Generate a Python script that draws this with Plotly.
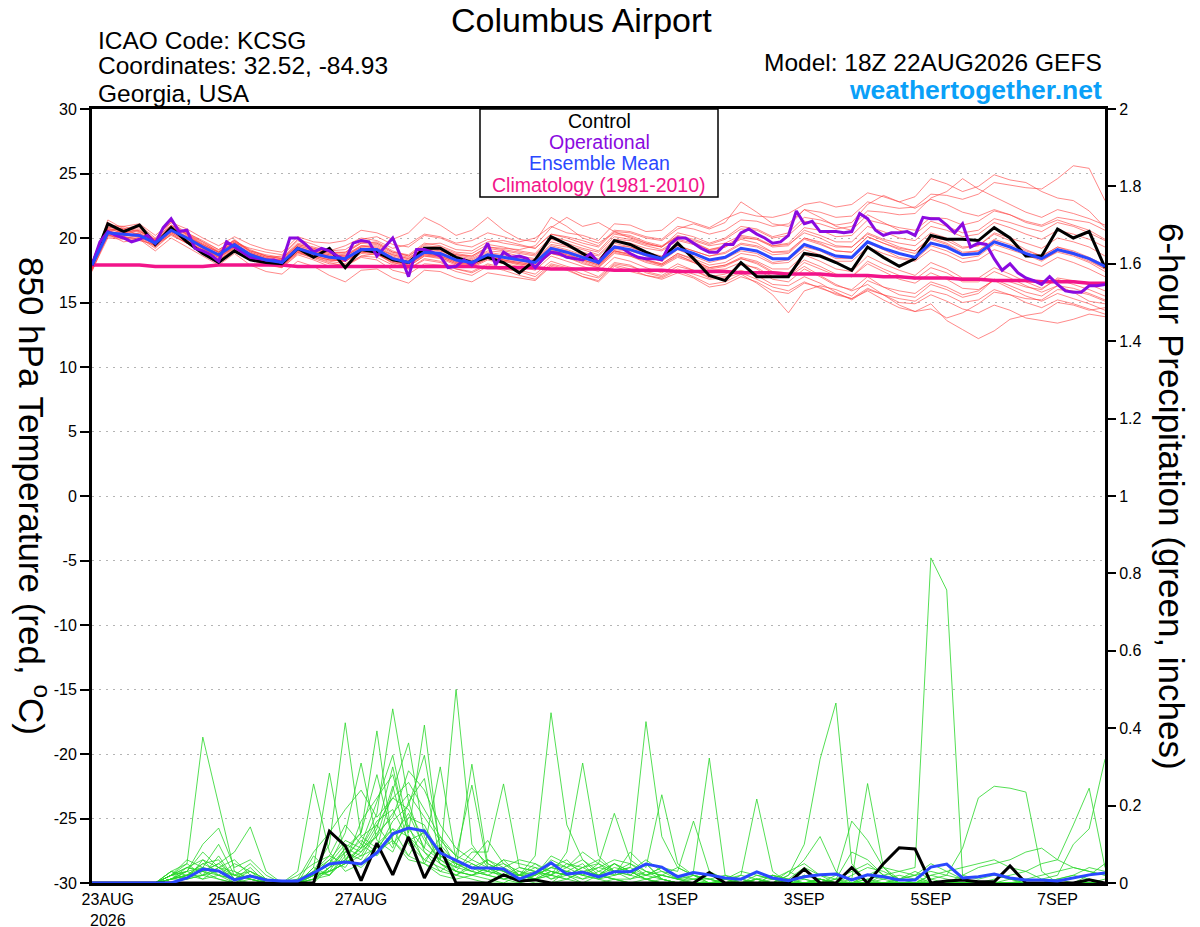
import pandas as pd
import plotly.graph_objects as go

# 6-hourly GEFS steps, 3-hourly for the operational run
times = pd.date_range("2026-08-22 18:00", periods=65, freq="6h")
times_op = pd.date_range("2026-08-22 18:00", periods=129, freq="3h")

tick_dates = ["2026-08-23", "2026-08-25", "2026-08-27", "2026-08-29",
              "2026-09-01", "2026-09-03", "2026-09-05", "2026-09-07"]
tick_labels = ["23AUG<br>2026", "25AUG", "27AUG", "29AUG", "1SEP", "3SEP", "5SEP", "7SEP"]
temp_ticks = [30, 25, 20, 15, 10, 5, 0, -5, -10, -15, -20, -25, -30]
temp_tick_text = ["30", "25", "20", "15", "10", "5", "0", "-5", "-10", "-15", "-20", "-25", "-30"]

# 850 hPa temperature (C)
control_t = [17.9, 21.1, 20.5, 21.0, 19.5, 20.8, 19.7, 18.8, 18.1, 19.0, 18.3, 18.1, 18.0,
             19.2, 18.5, 19.2, 17.7, 19.1, 18.9, 18.3, 18.1, 19.2, 19.2, 18.5, 18.1, 18.5,
             18.1, 17.3, 18.3, 20.1, 19.5, 18.8, 18.1, 19.8, 19.5, 18.9, 18.4, 19.6, 18.4,
             17.1, 16.7, 18.1, 17.0, 17.0, 17.0, 18.8, 18.6, 18.1, 17.5, 19.3, 18.5, 17.8,
             18.4, 20.2, 19.9, 19.9, 19.8, 20.8, 20.0, 18.6, 18.6, 20.7, 20.0, 20.5, 17.7]
mean_t = [17.9, 20.4, 20.3, 20.2, 19.6, 20.6, 20.0, 19.3, 18.7, 19.5, 18.7, 18.3, 18.1,
          19.2, 18.8, 18.5, 18.4, 19.1, 19.1, 18.4, 18.1, 18.9, 18.8, 18.3, 18.1, 18.7,
          18.5, 18.3, 18.1, 19.2, 18.9, 18.5, 18.1, 19.3, 19.1, 18.7, 18.4, 19.2, 18.8,
          18.3, 18.5, 19.2, 19.0, 18.4, 18.4, 19.5, 19.1, 18.6, 18.5, 19.7, 19.2, 18.8,
          18.5, 19.6, 19.3, 18.7, 18.8, 19.7, 19.3, 18.8, 18.4, 19.1, 18.8, 18.4, 17.8]
clim_t = [17.9, 17.9, 17.9, 17.9, 17.8, 17.8, 17.8, 17.8, 17.9, 17.9, 17.9, 17.9, 17.9,
          17.8, 17.8, 17.8, 17.8, 17.8, 17.8, 17.8, 17.8, 17.8, 17.8, 17.8, 17.8, 17.7,
          17.7, 17.7, 17.7, 17.6, 17.6, 17.6, 17.6, 17.5, 17.5, 17.5, 17.5, 17.4, 17.4,
          17.4, 17.4, 17.3, 17.3, 17.3, 17.2, 17.2, 17.2, 17.1, 17.1, 17.1, 17.0, 17.0,
          16.9, 16.9, 16.9, 16.8, 16.8, 16.7, 16.7, 16.7, 16.6, 16.6, 16.6, 16.5, 16.5]
oper_t = [17.9, 19.7, 20.5, 20.2, 20.0, 19.7, 19.9, 20.2,
          19.6, 20.8, 21.5, 20.5, 20.6, 19.2, 19.0, 18.7,
          18.2, 19.7, 19.3, 18.9, 18.5, 18.4, 18.3, 18.3,
          18.1, 20.0, 20.0, 19.5, 18.9, 19.2, 19.0, 18.6,
          18.3, 19.6, 19.8, 19.7, 18.6, 19.3, 20.0, 18.6,
          17.0, 19.1, 19.1, 18.9, 18.6, 17.7, 17.8, 18.3,
          17.9, 18.5, 19.6, 17.9, 18.9, 18.5, 18.6, 18.4,
          17.7, 18.4, 18.9, 18.8, 18.5, 18.4, 18.3, 18.8,
          18.1, 18.8, 19.3, 19.2, 18.8, 18.5, 18.4, 18.4,
          18.3, 19.5, 20.0, 20.0, 19.6, 19.2, 18.9, 18.9,
          19.5, 19.5, 20.4, 20.7, 20.3, 20.0, 19.6, 19.7,
          20.2, 22.1, 21.1, 21.3, 20.5, 20.5, 20.5, 20.4,
          20.5, 21.9, 21.5, 20.6, 20.2, 20.4, 20.4, 20.5,
          20.2, 21.6, 21.5, 21.5, 21.0, 20.4, 21.1, 19.3,
          19.6, 19.5, 18.4, 17.5, 18.0, 17.3, 16.9, 16.7,
          16.4, 17.0, 16.4, 15.9, 15.8, 15.8, 16.3, 16.3,
          16.4]

temp_m01 = [17.6, 20.8, 20.9, 20.5, 19.9, 21.0, 20.3, 19.6, 19.0, 19.8, 19.1, 18.6, 18.4,
            19.5, 19.2, 18.9, 18.8, 19.6, 19.7, 19.0, 18.6, 19.5, 19.6, 19.1, 19.0, 19.7,
            19.8, 19.5, 19.2, 20.3, 20.1, 19.8, 19.4, 20.6, 20.5, 20.1, 19.9, 20.9, 20.7,
            20.3, 20.6, 21.4, 21.3, 20.9, 21.1, 22.2, 22.0, 21.6, 21.7, 22.8, 22.5, 22.3,
            22.4, 23.4, 23.3, 23.0, 23.4, 24.3, 24.1, 23.9, 23.8, 24.6, 25.6, 25.4, 22.9]
temp_m02 = [18.1, 21.2, 20.6, 20.9, 19.8, 21.2, 20.4, 19.7, 18.9, 19.6, 19.2, 18.9, 18.7,
            19.9, 19.5, 19.0, 19.4, 20.0, 19.8, 19.2, 19.5, 20.3, 20.1, 19.6, 19.8, 20.4,
            20.1, 19.7, 20.0, 20.9, 20.4, 20.2, 19.8, 21.1, 21.0, 20.5, 20.6, 21.6, 21.2,
            20.8, 21.5, 22.0, 21.7, 21.6, 21.9, 22.6, 22.8, 22.4, 22.6, 23.5, 23.2, 22.8,
            23.2, 24.6, 24.2, 23.6, 24.0, 24.9, 24.5, 24.3, 23.6, 23.1, 22.9, 22.1, 20.8]
temp_m03 = [17.8, 20.2, 20.1, 19.9, 19.4, 20.4, 19.8, 19.0, 18.5, 19.2, 18.4, 18.0, 17.8,
            18.9, 18.4, 18.0, 17.9, 18.6, 18.5, 17.9, 17.6, 18.3, 18.1, 17.6, 17.4, 18.0,
            17.7, 17.5, 17.2, 18.2, 17.8, 17.5, 17.0, 18.1, 17.9, 17.3, 17.0, 17.6, 17.2,
            16.8, 16.9, 17.3, 16.8, 16.2, 15.9, 16.6, 16.1, 15.7, 15.3, 15.9, 15.2, 14.6,
            14.3, 14.9, 13.6, 12.9, 12.2, 12.8, 13.7, 14.0, 14.2, 15.0, 14.8, 14.4, 14.6]
temp_m04 = [17.5, 20.0, 19.9, 20.0, 19.2, 20.3, 19.6, 19.0, 18.3, 19.1, 18.3, 17.9, 17.7,
            18.7, 18.3, 17.8, 17.8, 18.5, 18.3, 17.5, 17.2, 18.0, 17.9, 17.4, 17.1, 17.8,
            17.5, 17.1, 16.8, 17.9, 17.6, 17.0, 16.6, 17.8, 17.4, 17.1, 16.8, 17.3, 16.9,
            16.2, 16.4, 17.0, 16.6, 15.9, 15.7, 16.5, 16.2, 15.6, 15.3, 16.1, 15.6, 15.0,
            14.9, 15.6, 15.1, 14.5, 14.2, 14.8, 14.4, 13.8, 13.6, 13.4, 13.7, 14.1, 13.9]
temp_m05 = [18.0, 20.6, 20.1, 20.4, 19.3, 20.8, 19.7, 19.1, 18.6, 19.3, 18.5, 18.0, 17.7,
            18.8, 18.5, 18.1, 17.8, 18.6, 18.8, 18.0, 17.6, 18.4, 18.2, 17.6, 17.3, 17.9,
            17.6, 17.4, 17.0, 18.0, 17.7, 17.2, 16.9, 17.9, 17.6, 17.1, 16.9, 17.5, 17.0,
            16.4, 16.6, 17.2, 16.5, 15.6, 14.2, 15.9, 16.3, 16.0, 15.5, 16.7, 16.2, 15.9,
            15.7, 16.6, 16.2, 15.6, 15.9, 16.8, 16.3, 15.8, 15.5, 16.3, 16.1, 15.7, 15.2]
temp_m06 = [17.7, 21.4, 20.7, 21.0, 20.0, 21.3, 20.2, 19.5, 18.9, 19.9, 18.9, 18.5, 18.6,
            19.8, 19.1, 18.8, 18.9, 19.7, 19.6, 18.9, 18.7, 19.6, 19.4, 18.9, 18.8, 19.5,
            19.3, 19.0, 18.8, 20.1, 19.8, 19.4, 19.0, 20.3, 20.1, 19.6, 19.3, 20.4, 20.1,
            19.6, 20.0, 20.9, 20.7, 20.1, 20.4, 21.6, 21.4, 21.0, 21.2, 22.6, 23.3, 22.8,
            22.3, 23.0, 22.6, 22.0, 21.7, 22.2, 21.8, 21.2, 20.9, 21.4, 21.0, 20.6, 19.9]
temp_m07 = [17.9, 20.1, 20.0, 19.8, 19.5, 20.2, 19.6, 18.9, 18.4, 19.3, 18.5, 18.1, 17.8,
            18.9, 18.5, 18.2, 18.0, 18.8, 18.7, 18.1, 17.8, 18.6, 18.5, 18.0, 17.8, 18.4,
            18.2, 17.9, 17.7, 18.8, 18.5, 18.0, 17.7, 18.9, 18.6, 18.2, 17.9, 18.6, 18.2,
            17.7, 17.9, 18.5, 18.2, 17.6, 17.6, 18.7, 18.2, 17.6, 17.4, 18.6, 18.0, 17.5,
            17.1, 18.1, 17.6, 16.9, 16.9, 17.7, 17.2, 16.6, 16.1, 16.8, 16.4, 16.0, 15.5]
temp_m08 = [18.0, 20.7, 20.6, 20.3, 19.8, 20.9, 20.3, 19.5, 18.9, 19.7, 19.0, 18.6, 18.4,
            19.4, 19.1, 18.8, 18.7, 19.4, 19.5, 18.8, 18.5, 19.2, 19.2, 18.7, 18.5, 19.2,
            19.0, 18.8, 18.6, 19.7, 19.4, 19.1, 18.7, 19.9, 19.8, 19.4, 19.1, 19.9, 19.6,
            19.1, 19.4, 20.1, 19.9, 19.3, 19.4, 20.6, 20.2, 19.7, 19.7, 20.9, 20.5, 20.0,
            19.8, 20.9, 20.6, 20.1, 20.3, 21.2, 20.8, 20.3, 19.9, 20.6, 20.3, 19.9, 19.3]
temp_m09 = [17.6, 20.9, 20.4, 20.7, 19.7, 20.6, 19.9, 19.2, 18.5, 19.4, 18.6, 18.2, 18.0,
            19.0, 18.7, 18.4, 18.2, 19.0, 18.9, 18.2, 17.9, 18.8, 18.6, 18.2, 17.9, 18.6,
            18.3, 18.1, 17.9, 19.0, 18.8, 18.3, 18.0, 19.1, 19.0, 18.6, 18.2, 19.1, 18.6,
            18.1, 18.4, 19.0, 18.8, 18.1, 18.3, 19.3, 19.0, 18.4, 18.4, 19.6, 19.1, 18.5,
            18.3, 19.4, 19.0, 18.4, 18.6, 19.5, 19.1, 18.7, 18.2, 19.0, 18.7, 18.2, 17.6]
temp_m10 = [18.2, 20.5, 20.8, 20.1, 19.9, 20.7, 20.4, 19.8, 19.1, 19.8, 19.0, 18.7, 18.5,
            19.6, 19.3, 19.0, 19.1, 19.9, 20.1, 19.5, 19.3, 20.2, 20.0, 19.5, 19.3, 19.9,
            19.6, 19.4, 19.2, 20.3, 20.0, 19.6, 19.3, 20.5, 20.4, 20.0, 19.8, 20.7, 21.1,
            20.7, 21.2, 22.8, 22.0, 21.1, 20.9, 22.2, 21.6, 20.9, 20.6, 21.8, 21.2, 20.6,
            20.3, 21.3, 20.9, 20.4, 20.6, 21.5, 21.2, 20.8, 20.5, 21.2, 20.9, 20.4, 19.8]
temp_m11 = [17.4, 20.3, 19.7, 19.9, 19.0, 20.0, 19.3, 18.6, 17.9, 18.8, 17.9, 17.4, 17.2,
            18.2, 17.8, 17.1, 16.6, 17.5, 17.6, 16.9, 16.5, 17.5, 17.4, 16.9, 16.6, 17.3,
            17.1, 16.9, 16.7, 17.8, 17.5, 17.0, 16.7, 18.0, 17.8, 17.4, 17.1, 17.8, 17.5,
            17.0, 17.2, 17.9, 17.7, 17.0, 17.0, 18.1, 17.6, 17.1, 17.0, 18.2, 17.6, 17.1,
            16.8, 17.7, 17.3, 16.6, 16.6, 17.4, 16.9, 16.3, 15.8, 16.3, 15.8, 15.1, 14.9]
temp_m12 = [18.1, 21.0, 20.9, 21.1, 20.2, 21.2, 20.7, 20.0, 19.4, 20.1, 19.5, 19.1, 18.9,
            20.1, 19.7, 19.6, 19.8, 20.6, 20.4, 19.9, 20.4, 21.6, 21.0, 20.2, 20.6, 21.6,
            20.6, 19.9, 19.7, 21.6, 20.9, 20.0, 19.6, 20.4, 20.2, 19.7, 19.4, 20.1, 19.7,
            19.1, 19.3, 19.9, 19.6, 18.9, 18.9, 20.0, 19.6, 19.0, 18.9, 20.1, 19.6, 19.1,
            18.8, 19.9, 19.5, 18.8, 19.0, 19.9, 19.5, 19.0, 18.6, 19.3, 19.0, 18.5, 17.9]
temp_m13 = [17.8, 20.4, 20.5, 20.0, 19.6, 20.5, 19.9, 19.3, 18.8, 19.4, 18.8, 18.4, 18.2,
            19.1, 18.9, 18.6, 18.5, 19.2, 19.0, 18.5, 18.2, 18.9, 18.9, 18.4, 18.2, 18.8,
            18.6, 18.4, 18.2, 19.3, 19.0, 18.6, 18.2, 19.4, 19.3, 18.8, 18.5, 19.4, 19.0,
            18.6, 18.9, 19.6, 19.4, 18.9, 19.0, 20.0, 19.7, 19.3, 19.3, 20.4, 19.9, 19.6,
            19.4, 20.4, 20.0, 19.3, 19.4, 20.3, 19.8, 19.1, 18.6, 19.3, 18.9, 18.3, 17.6]
temp_m14 = [17.7, 20.6, 20.2, 20.3, 19.5, 20.7, 20.1, 19.4, 18.6, 19.5, 18.7, 18.2, 18.0,
            19.2, 18.8, 18.4, 18.3, 19.1, 19.2, 18.5, 18.1, 18.8, 18.7, 18.2, 18.0, 18.6,
            18.4, 18.2, 18.0, 19.1, 18.7, 18.3, 17.9, 19.0, 18.7, 18.3, 17.9, 18.7, 18.1,
            17.5, 17.6, 18.1, 17.6, 16.8, 16.6, 17.6, 17.0, 16.3, 16.0, 17.0, 16.2, 15.6,
            15.4, 16.4, 16.0, 15.4, 15.7, 16.8, 16.6, 16.2, 16.0, 16.9, 16.7, 16.4, 15.9]
temp_m15 = [18.0, 20.3, 20.2, 20.4, 19.7, 20.5, 19.8, 19.2, 18.6, 19.6, 18.8, 18.4, 18.2,
            19.3, 18.9, 18.6, 18.6, 19.3, 19.4, 18.7, 18.4, 19.2, 19.1, 18.6, 18.4, 19.0,
            18.9, 18.6, 18.4, 19.5, 19.3, 18.9, 18.6, 19.8, 19.6, 19.2, 19.0, 19.8, 19.5,
            19.0, 19.3, 20.0, 19.9, 19.4, 19.6, 20.8, 20.6, 20.1, 20.2, 21.4, 21.1, 20.8,
            20.6, 21.6, 21.5, 21.0, 21.3, 22.1, 21.8, 21.3, 21.0, 21.6, 21.4, 21.2, 20.6]
temp_m16 = [17.9, 20.8, 20.3, 20.6, 19.6, 20.9, 20.0, 19.4, 18.7, 19.6, 18.6, 18.3, 18.1,
            19.1, 18.7, 18.5, 18.4, 19.0, 19.0, 18.3, 18.0, 18.7, 18.6, 18.1, 17.9, 18.5,
            18.3, 18.0, 17.8, 18.8, 18.5, 18.1, 17.7, 18.8, 18.6, 18.1, 17.8, 18.5, 18.1,
            17.6, 17.8, 18.4, 18.1, 17.4, 17.3, 18.3, 17.8, 17.2, 17.0, 18.0, 17.4, 16.8,
            16.5, 17.3, 16.8, 16.1, 16.0, 16.7, 16.1, 15.5, 15.1, 15.7, 15.3, 14.9, 14.4]
temp_m17 = [17.6, 20.5, 20.0, 20.2, 19.4, 20.4, 19.7, 19.1, 18.5, 19.3, 18.5, 18.1, 17.9,
            19.0, 18.6, 18.3, 18.2, 19.0, 18.9, 18.3, 18.0, 18.8, 18.6, 18.1, 17.9, 18.5,
            18.3, 18.1, 17.9, 19.0, 18.7, 18.3, 17.9, 19.0, 18.8, 18.3, 18.0, 18.8, 18.3,
            17.7, 17.9, 18.4, 18.0, 17.3, 17.0, 17.8, 17.1, 16.4, 15.9, 16.4, 15.6, 14.8,
            14.3, 14.5, 13.8, 14.2, 14.9, 15.8, 15.6, 15.3, 15.2, 16.0, 15.9, 15.6, 15.1]
temp_m18 = [18.1, 20.6, 20.7, 20.5, 19.8, 20.8, 20.2, 19.4, 18.9, 19.7, 18.9, 18.5, 18.3,
            19.4, 19.0, 18.7, 18.6, 19.3, 19.3, 18.6, 18.3, 19.0, 19.0, 18.5, 18.3, 18.9,
            18.7, 18.5, 18.3, 19.4, 19.1, 18.7, 18.4, 19.6, 19.3, 18.9, 18.6, 19.4, 19.0,
            18.6, 18.8, 19.5, 19.3, 18.7, 18.8, 19.9, 19.5, 19.0, 18.9, 20.1, 19.6, 19.2,
            19.0, 20.1, 19.8, 19.2, 19.4, 20.4, 20.0, 19.6, 19.2, 20.0, 19.7, 19.3, 18.6]
temp_m19 = [17.8, 20.7, 20.4, 20.6, 19.7, 20.7, 20.1, 19.5, 18.9, 19.6, 18.8, 18.4, 18.3,
            19.3, 18.9, 18.7, 18.6, 19.4, 19.2, 18.7, 18.4, 19.2, 19.0, 18.7, 18.6, 19.3,
            19.2, 19.1, 19.4, 20.8, 21.6, 20.9, 21.2, 20.5, 20.0, 19.6, 19.3, 20.1, 19.8,
            19.4, 19.6, 20.2, 20.0, 19.4, 19.5, 20.4, 20.0, 19.4, 19.3, 20.3, 19.8, 19.3,
            19.0, 20.0, 19.6, 18.9, 19.0, 19.8, 19.3, 18.8, 18.3, 18.9, 18.6, 18.1, 17.4]
temp_m20 = [17.5, 20.2, 20.0, 20.1, 19.3, 20.3, 19.6, 18.9, 18.3, 19.2, 18.4, 18.0, 17.9,
            18.9, 18.6, 18.3, 18.2, 18.9, 18.8, 18.2, 17.9, 18.7, 18.5, 18.0, 17.8, 18.4,
            18.2, 18.0, 17.8, 18.9, 18.6, 18.2, 17.8, 19.0, 18.7, 18.3, 18.0, 18.8, 18.4,
            17.9, 18.1, 18.8, 18.6, 18.0, 18.1, 19.1, 18.7, 18.2, 18.2, 19.3, 18.8, 18.4,
            18.2, 19.1, 18.7, 18.1, 18.3, 19.1, 18.7, 18.2, 17.8, 18.5, 18.1, 17.6, 17.0]
temp_m21 = [18.0, 20.4, 20.3, 20.2, 19.5, 20.5, 19.9, 19.2, 18.6, 19.4, 18.6, 18.2, 18.0,
            19.0, 18.6, 18.3, 18.2, 18.9, 18.8, 18.1, 17.8, 18.6, 18.4, 17.9, 17.7, 18.3,
            18.0, 17.8, 17.5, 18.6, 18.2, 17.8, 17.4, 18.5, 18.2, 17.7, 17.3, 18.0, 17.5,
            16.9, 17.0, 17.5, 17.1, 16.4, 16.3, 17.0, 16.5, 15.8, 15.2, 16.0, 15.6, 15.3,
            15.1, 15.9, 15.6, 15.0, 15.2, 16.0, 15.6, 15.0, 14.6, 15.2, 14.9, 14.5, 14.1]
temp_m22 = [17.9, 21.1, 20.6, 20.8, 19.9, 21.0, 20.3, 19.7, 19.1, 19.8, 19.0, 18.6, 18.4,
            19.5, 19.2, 18.9, 18.9, 19.6, 19.6, 18.9, 18.6, 19.4, 19.3, 18.8, 18.6, 19.3,
            19.1, 18.9, 18.7, 19.9, 19.6, 19.2, 18.9, 20.1, 19.9, 19.5, 19.3, 20.2, 19.9,
            19.5, 19.9, 20.7, 20.6, 20.0, 20.2, 21.3, 21.1, 20.7, 20.9, 22.1, 22.0, 21.8,
            21.9, 23.1, 23.6, 24.6, 23.8, 23.2, 22.6, 22.0, 21.6, 22.2, 21.9, 21.5, 21.0]

# 6-hour precipitation (inches)
control_p = [0, 0, 0, 0, 0, 0, 0, 0, 0, 0, 0, 0, 0,
             0, 0, 0.134, 0.096, 0.006, 0.103, 0.021, 0.119, 0.013, 0.090, 0, 0, 0,
             0.021, 0.005, 0.008, 0, 0, 0, 0, 0, 0, 0, 0, 0, 0,
             0.027, 0, 0, 0, 0, 0, 0.036, 0, 0, 0.040, 0, 0.050, 0.091,
             0.088, 0, 0.005, 0.008, 0.003, 0.003, 0.044, 0, 0, 0, 0, 0.008, 0]
mean_p = [0, 0, 0, 0, 0, 0, 0.013, 0.036, 0.031, 0.008, 0.018, 0.008, 0.005,
          0.005, 0.026, 0.049, 0.054, 0.049, 0.078, 0.127, 0.142, 0.134, 0.078, 0.059, 0.039, 0.039,
          0.036, 0.010, 0.026, 0.052, 0.023, 0.028, 0.016, 0.029, 0.029, 0.049, 0.041, 0.016, 0.027,
          0.021, 0.013, 0.010, 0.029, 0.013, 0.006, 0.016, 0.021, 0.023, 0.008, 0.021, 0.016, 0.008,
          0.008, 0.041, 0.049, 0.013, 0.016, 0.023, 0.013, 0.008, 0.008, 0.005, 0.013, 0.021, 0.026]

precip_m01 = [0, 0, 0, 0, 0, 0.02, 0.05, 0.377, 0.20, 0.03, 0.01, 0, 0,
              0, 0.02, 0.06, 0.11, 0.09, 0.18, 0.45, 0.21, 0.08, 0.03, 0.02, 0.01, 0,
              0, 0, 0.01, 0.03, 0.02, 0, 0, 0.01, 0, 0, 0, 0, 0,
              0, 0, 0, 0, 0, 0, 0.02, 0.01, 0, 0, 0, 0, 0,
              0, 0, 0, 0, 0, 0, 0, 0, 0, 0, 0, 0, 0]
precip_m02 = [0, 0, 0, 0, 0, 0.01, 0.03, 0.08, 0.04, 0.01, 0.03, 0, 0,
              0, 0.03, 0.10, 0.414, 0.12, 0.15, 0.09, 0.21, 0.27, 0.06, 0.50, 0.10, 0.04,
              0.02, 0.01, 0, 0, 0.03, 0.05, 0.01, 0, 0, 0, 0, 0, 0,
              0, 0, 0, 0, 0, 0, 0, 0, 0, 0, 0, 0, 0.01,
              0.02, 0, 0, 0, 0, 0, 0, 0, 0, 0, 0, 0, 0]
precip_m03 = [0, 0, 0, 0, 0, 0.02, 0.06, 0.04, 0.10, 0.02, 0.05, 0.01, 0,
              0, 0, 0.04, 0.08, 0.13, 0.393, 0.10, 0.15, 0.05, 0.12, 0.04, 0.06, 0.11,
              0.05, 0.02, 0.07, 0.44, 0.15, 0.06, 0.02, 0.05, 0.03, 0.01, 0, 0, 0,
              0, 0, 0, 0, 0.01, 0.03, 0.01, 0, 0, 0, 0, 0, 0,
              0, 0, 0, 0, 0, 0, 0, 0, 0, 0, 0, 0, 0]
precip_m04 = [0, 0, 0, 0, 0, 0.03, 0.02, 0.05, 0.06, 0.01, 0.02, 0, 0,
              0, 0.07, 0.03, 0.05, 0.16, 0.22, 0.28, 0.13, 0.408, 0.08, 0.03, 0.02, 0.04,
              0.01, 0, 0.02, 0.06, 0.04, 0.08, 0.05, 0.03, 0.04, 0.417, 0.12, 0.04, 0.02,
              0, 0.01, 0, 0, 0, 0.03, 0.05, 0.02, 0, 0, 0, 0, 0,
              0, 0, 0, 0, 0, 0, 0, 0, 0, 0.01, 0, 0, 0]
precip_m05 = [0, 0, 0, 0, 0, 0.01, 0.04, 0.03, 0.02, 0, 0.01, 0, 0,
              0, 0.04, 0.284, 0.06, 0.12, 0.09, 0.24, 0.362, 0.12, 0.05, 0.02, 0.04, 0.03,
              0.06, 0.02, 0.01, 0.03, 0.02, 0.01, 0.03, 0.05, 0.02, 0.01, 0, 0, 0,
              0, 0, 0, 0, 0, 0.02, 0.10, 0.32, 0.465, 0.05, 0, 0, 0,
              0, 0, 0, 0, 0, 0, 0, 0, 0, 0, 0, 0, 0]
precip_m06 = [0, 0, 0, 0, 0, 0, 0.02, 0.03, 0.01, 0, 0, 0, 0,
              0.03, 0.256, 0.08, 0.03, 0.05, 0.10, 0.14, 0.07, 0.05, 0.02, 0.01, 0.02, 0.01,
              0, 0.02, 0.01, 0, 0.01, 0, 0.02, 0.01, 0, 0, 0.01, 0, 0,
              0, 0, 0, 0, 0, 0, 0, 0, 0.01, 0.03, 0.05, 0.02, 0.03,
              0.04, 0.84, 0.757, 0.02, 0.01, 0.02, 0.01, 0, 0, 0, 0, 0, 0.01]
precip_m07 = [0, 0, 0, 0, 0, 0.02, 0.01, 0.06, 0.04, 0.02, 0.03, 0.01, 0,
              0, 0.02, 0.05, 0.13, 0.31, 0.11, 0.08, 0.17, 0.15, 0.07, 0.04, 0.307, 0.05,
              0.03, 0.01, 0.02, 0.04, 0.06, 0.02, 0.01, 0.03, 0.05, 0.02, 0.04, 0.01, 0.03,
              0.323, 0.02, 0, 0.01, 0, 0, 0.01, 0, 0, 0, 0.01, 0, 0,
              0, 0, 0, 0, 0, 0, 0, 0, 0, 0, 0, 0, 0]
precip_m08 = [0, 0, 0, 0, 0, 0.01, 0.02, 0.05, 0.03, 0, 0.02, 0.01, 0,
              0, 0.01, 0.03, 0.09, 0.07, 0.14, 0.30, 0.12, 0.06, 0.10, 0.05, 0.03, 0.02,
              0.04, 0.06, 0.05, 0.02, 0.08, 0.31, 0.07, 0.03, 0.02, 0.05, 0.01, 0, 0.01,
              0, 0, 0.02, 0.01, 0, 0, 0, 0.01, 0, 0.02, 0.04, 0.03, 0.01,
              0, 0.01, 0.02, 0.09, 0.22, 0.25, 0.245, 0.235, 0.03, 0, 0, 0, 0]
precip_m09 = [0, 0, 0, 0, 0, 0.03, 0.05, 0.02, 0.07, 0.01, 0.04, 0, 0,
              0.02, 0.05, 0.07, 0.15, 0.10, 0.21, 0.33, 0.14, 0.09, 0.06, 0.03, 0.08, 0.08,
              0.256, 0.04, 0.03, 0.02, 0.05, 0.03, 0.02, 0.01, 0.01, 0.03, 0.02, 0.01, 0,
              0, 0, 0, 0.01, 0, 0.02, 0.06, 0.12, 0.03, 0, 0, 0, 0,
              0, 0, 0, 0, 0, 0, 0, 0, 0, 0, 0, 0, 0]
precip_m10 = [0, 0, 0, 0, 0, 0.01, 0.02, 0.04, 0.02, 0.05, 0.03, 0.01, 0,
              0, 0.01, 0.04, 0.06, 0.09, 0.12, 0.18, 0.23, 0.17, 0.11, 0.07, 0.253, 0.04,
              0.02, 0.03, 0.01, 0.05, 0.04, 0.06, 0.03, 0.02, 0.08, 0.04, 0.228, 0.05, 0.02,
              0.01, 0, 0, 0, 0.02, 0.01, 0, 0, 0.01, 0.08, 0.06, 0.02, 0,
              0, 0.02, 0.03, 0.04, 0.05, 0.06, 0.04, 0.03, 0.05, 0.06, 0.15, 0.245, 0.04]
precip_m11 = [0, 0, 0, 0, 0, 0.02, 0.04, 0.03, 0.05, 0.08, 0.145, 0.03, 0,
              0.01, 0.03, 0.02, 0.07, 0.11, 0.08, 0.16, 0.20, 0.33, 0.09, 0.05, 0.03, 0.06,
              0.03, 0.02, 0.04, 0.01, 0.03, 0.02, 0.04, 0.03, 0.02, 0.05, 0.01, 0, 0,
              0, 0, 0.01, 0, 0, 0, 0.02, 0.01, 0, 0, 0, 0.01, 0.02,
              0.01, 0, 0, 0, 0, 0.01, 0.02, 0.03, 0.01, 0.02, 0.10, 0.14, 0.32]
precip_m12 = [0, 0, 0, 0, 0, 0.01, 0.03, 0.10, 0.142, 0.04, 0.06, 0.02, 0,
              0, 0.02, 0.03, 0.05, 0.08, 0.12, 0.25, 0.10, 0.06, 0.04, 0.02, 0.05, 0.03,
              0.02, 0.01, 0.01, 0.02, 0.01, 0.03, 0.02, 0.01, 0, 0.01, 0, 0, 0,
              0, 0, 0, 0.02, 0.01, 0, 0, 0, 0, 0.01, 0.257, 0.04, 0,
              0, 0, 0, 0, 0, 0, 0, 0, 0, 0, 0, 0, 0]
precip_m13 = [0, 0, 0, 0, 0, 0.01, 0.02, 0.02, 0.03, 0.01, 0.02, 0, 0,
              0, 0.03, 0.06, 0.04, 0.10, 0.07, 0.12, 0.18, 0.09, 0.30, 0.06, 0.04, 0.02,
              0.01, 0.02, 0.03, 0.01, 0.02, 0.04, 0.02, 0.05, 0.03, 0.02, 0.04, 0.03, 0.16,
              0.03, 0.01, 0.02, 0.217, 0.03, 0, 0, 0, 0, 0, 0.02, 0.01, 0,
              0, 0, 0, 0, 0, 0, 0, 0, 0, 0, 0, 0, 0]
precip_m14 = [0, 0, 0, 0, 0, 0.02, 0.03, 0.01, 0.04, 0.03, 0.01, 0, 0,
              0, 0.01, 0.04, 0.09, 0.13, 0.28, 0.11, 0.07, 0.14, 0.05, 0.03, 0.02, 0.04,
              0.03, 0.01, 0.02, 0.04, 0.03, 0.02, 0.05, 0.18, 0.06, 0.03, 0.01, 0, 0.02,
              0, 0, 0.01, 0, 0, 0, 0, 0, 0, 0, 0, 0.02, 0.01,
              0.03, 0.01, 0, 0.02, 0.04, 0.05, 0.06, 0.08, 0.09, 0.06, 0.04, 0.03, 0.02]
precip_m15 = [0, 0, 0, 0, 0, 0.01, 0.01, 0.02, 0.01, 0, 0, 0, 0,
              0, 0.02, 0.05, 0.10, 0.08, 0.15, 0.22, 0.26, 0.19, 0.12, 0.07, 0.05, 0.03,
              0.02, 0.04, 0.03, 0.02, 0.01, 0.03, 0.02, 0.04, 0.03, 0.06, 0.03, 0.02, 0.01,
              0.01, 0, 0, 0.01, 0.02, 0, 0, 0, 0.02, 0.16, 0.11, 0.04, 0.01,
              0, 0.02, 0.01, 0, 0, 0, 0, 0, 0, 0, 0, 0, 0]
precip_m16 = [0, 0, 0, 0, 0, 0.02, 0.04, 0.06, 0.02, 0.01, 0.02, 0.01, 0,
              0.01, 0.08, 0.13, 0.19, 0.24, 0.17, 0.22, 0.19, 0.11, 0.06, 0.04, 0.03, 0.02,
              0.01, 0.02, 0.02, 0.04, 0.03, 0.01, 0.02, 0.03, 0.01, 0.02, 0.01, 0, 0,
              0, 0.01, 0.03, 0.02, 0.01, 0, 0, 0.01, 0, 0, 0.01, 0.02, 0,
              0, 0, 0, 0, 0, 0, 0.01, 0, 0, 0, 0, 0.02, 0.05]
precip_m17 = [0, 0, 0, 0, 0, 0.01, 0.02, 0.03, 0.05, 0.02, 0.01, 0, 0,
              0, 0.04, 0.02, 0.08, 0.06, 0.13, 0.17, 0.29, 0.24, 0.15, 0.09, 0.06, 0.04,
              0.05, 0.03, 0.02, 0.07, 0.05, 0.04, 0.06, 0.03, 0.04, 0.02, 0.03, 0.01, 0.02,
              0.01, 0, 0, 0.01, 0, 0.01, 0.04, 0.02, 0.01, 0, 0, 0, 0,
              0, 0, 0, 0, 0, 0, 0, 0, 0, 0, 0, 0, 0]
precip_m18 = [0, 0, 0, 0, 0, 0.03, 0.01, 0.02, 0.04, 0.06, 0.02, 0.01, 0,
              0, 0.02, 0.03, 0.05, 0.07, 0.09, 0.14, 0.12, 0.08, 0.05, 0.03, 0.02, 0.03,
              0.06, 0.05, 0.04, 0.03, 0.02, 0.04, 0.05, 0.02, 0.03, 0.01, 0.02, 0.01, 0,
              0, 0, 0, 0, 0, 0, 0, 0, 0, 0, 0.02, 0.04, 0.03,
              0.02, 0.05, 0.03, 0.01, 0, 0, 0, 0.01, 0.02, 0.03, 0.04, 0.03, 0.02]
precip_m19 = [0, 0, 0, 0, 0, 0.02, 0.03, 0.04, 0.03, 0.02, 0.01, 0, 0,
              0, 0.03, 0.07, 0.05, 0.09, 0.16, 0.19, 0.11, 0.13, 0.07, 0.05, 0.04, 0.06,
              0.04, 0.02, 0.05, 0.03, 0.02, 0.03, 0.04, 0.06, 0.05, 0.03, 0.02, 0.04, 0.02,
              0.01, 0.02, 0.01, 0, 0.02, 0.01, 0, 0.01, 0, 0, 0, 0, 0.01,
              0.02, 0.03, 0.02, 0.01, 0, 0, 0, 0, 0, 0.01, 0.02, 0.01, 0]
precip_m20 = [0, 0, 0, 0, 0, 0.01, 0.02, 0.01, 0.02, 0.01, 0, 0, 0,
              0, 0.01, 0.02, 0.06, 0.04, 0.08, 0.11, 0.06, 0.05, 0.03, 0.06, 0.09, 0.05,
              0.03, 0.02, 0.01, 0.02, 0.04, 0.02, 0.01, 0.02, 0.03, 0.01, 0.02, 0.01, 0.01,
              0.02, 0.01, 0, 0, 0, 0, 0, 0, 0, 0, 0, 0, 0,
              0, 0, 0, 0, 0, 0, 0, 0, 0, 0.01, 0.02, 0.04, 0.03]

temp_members = [temp_m01, temp_m02, temp_m03, temp_m04, temp_m05, temp_m06, temp_m07, temp_m08,
                temp_m09, temp_m10, temp_m11, temp_m12, temp_m13, temp_m14, temp_m15, temp_m16,
                temp_m17, temp_m18, temp_m19, temp_m20, temp_m21, temp_m22]
precip_members = [precip_m01, precip_m02, precip_m03, precip_m04, precip_m05, precip_m06,
                  precip_m07, precip_m08, precip_m09, precip_m10, precip_m11, precip_m12,
                  precip_m13, precip_m14, precip_m15, precip_m16, precip_m17, precip_m18,
                  precip_m19, precip_m20]

for s in temp_members + precip_members + [control_t, mean_t, clim_t, control_p, mean_p]:
    assert len(s) == len(times), len(s)
assert len(oper_t) == len(times_op)

FONT = "Liberation Sans, Arial, Helvetica, sans-serif"
RED = "rgba(255,70,70,0.8)"
GREEN = "rgb(40,215,40)"
BLACK = "#000000"
PURPLE = "#8a0ae0"
BLUE = "#2a48ff"
PINK = "#f2148a"

# plot area as seen on screen; the page body adds an 8px offset
L, R, T, B = 92, 1105, 109, 883
PAGE = 8
W, H = 1200, 927


def fx(px):
    return (px - L) / (R - L)


def fy(py):
    return (B - py) / (B - T)


fig = go.Figure()

for m in temp_members:
    fig.add_trace(go.Scatter(x=times, y=m, mode="lines", line=dict(color=RED, width=0.8),
                             hoverinfo="skip", showlegend=False))
for m in precip_members:
    fig.add_trace(go.Scatter(x=times, y=m, mode="lines", yaxis="y2",
                             line=dict(color=GREEN, width=0.8),
                             hoverinfo="skip", showlegend=False))

fig.add_trace(go.Scatter(x=times, y=clim_t, mode="lines", line=dict(color=PINK, width=3.5),
                         name="Climatology", showlegend=False))
fig.add_trace(go.Scatter(x=times, y=control_t, mode="lines", line=dict(color=BLACK, width=3),
                         name="Control", showlegend=False))
fig.add_trace(go.Scatter(x=times_op, y=oper_t, mode="lines", line=dict(color=PURPLE, width=3),
                         name="Operational", showlegend=False))
fig.add_trace(go.Scatter(x=times, y=mean_t, mode="lines", line=dict(color=BLUE, width=3),
                         name="Ensemble Mean", showlegend=False))
fig.add_trace(go.Scatter(x=times, y=control_p, mode="lines", yaxis="y2",
                         line=dict(color=BLACK, width=3), showlegend=False))
fig.add_trace(go.Scatter(x=times, y=mean_p, mode="lines", yaxis="y2",
                         line=dict(color=BLUE, width=3), showlegend=False))

ann = []


def text(x, y, s, size, color=BLACK, xanchor="center", angle=0):
    ann.append(dict(x=fx(x), y=fy(y), xref="paper", yref="paper", text=s, showarrow=False,
                    xanchor=xanchor, yanchor="middle", textangle=angle, borderpad=0,
                    font=dict(family=FONT, size=size, color=color)))


text(581, 20, "Columbus Airport", 34)
text(97, 40, "ICAO Code: KCSG", 24.5, xanchor="left")
text(97, 66, "Coordinates: 32.52, -84.93", 24.5, xanchor="left")
text(97, 93, "Georgia, USA", 24.5, xanchor="left")
text(1103, 63, "Model: 18Z 22AUG2026 GEFS", 24.5, xanchor="right")
text(1103, 90, "<b>weathertogether.net</b>", 26.5, color="#0aa0f8", xanchor="right")
text(599, 121, "Control", 19.5)
text(599, 142, "Operational", 19.5, color=PURPLE)
text(599, 163, "Ensemble Mean", 19.5, color=BLUE)
text(599, 185, "Climatology (1981-2010)", 19.5, color=PINK)
text(34, 496, "850 hPa Temperature (red, <sup>o</sup>C)", 35, angle=90)
text(1172, 496, "6-hour Precipitation (green, inches)", 35, angle=90)

fig.update_layout(
    width=W, height=H,
    margin=dict(l=L - PAGE, r=W - (R - PAGE), t=T - PAGE, b=H - (B - PAGE), autoexpand=False),
    paper_bgcolor="white", plot_bgcolor="white",
    font=dict(family=FONT, size=16, color=BLACK),
    showlegend=False,
    annotations=ann,
    shapes=[dict(type="rect", xref="paper", yref="paper",
                 x0=fx(480), x1=fx(718), y0=fy(197), y1=fy(109),
                 fillcolor="white", line=dict(color=BLACK, width=1.5), layer="above")],
    xaxis=dict(range=["2026-08-22 18:00", "2026-09-07 18:00"],
               tickvals=tick_dates, ticktext=tick_labels, tickfont=dict(size=16),
               showgrid=False, zeroline=False, showline=True, linecolor=BLACK,
               linewidth=3, mirror=True, ticks="", automargin=False),
    yaxis=dict(range=[-30, 30], tickvals=temp_ticks, ticktext=temp_tick_text,
               tickfont=dict(size=16), showgrid=True, gridcolor="#b4b4b4",
               griddash="2px,5px", gridwidth=1, zeroline=False, showline=True,
               linecolor=BLACK, linewidth=3, ticks="outside", ticklen=9,
               tickwidth=1.5, tickcolor=BLACK, automargin=False),
    yaxis2=dict(range=[0, 2], dtick=0.2, overlaying="y", side="right",
                tickfont=dict(size=16), showgrid=False, zeroline=False,
                showline=True, linecolor=BLACK, linewidth=3, ticks="outside",
                ticklen=8, tickwidth=1.5, tickcolor=BLACK, automargin=False),
)

fig.write_html("out.html")
